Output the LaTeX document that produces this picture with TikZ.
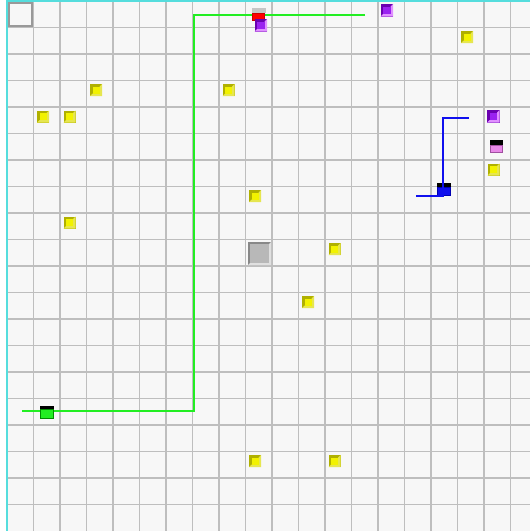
\documentclass[tikz,border=0pt]{standalone}
\usetikzlibrary{calc}
\definecolor{cellbg}{HTML}{F7F7F7}
\definecolor{gridln}{HTML}{BEBEBE}
\definecolor{edgecy}{HTML}{55DDDD}
\definecolor{ydark}{HTML}{B0B000}
\definecolor{ylight}{HTML}{E6E650}
\definecolor{yfill}{HTML}{F2F200}
\definecolor{pdark}{HTML}{6A00B0}
\definecolor{plight}{HTML}{E090FF}
\definecolor{pfill}{HTML}{9A22F0}
\definecolor{gdark}{HTML}{888888}
\definecolor{glight}{HTML}{E0E0E0}
\definecolor{gfill}{HTML}{B8B8B8}
\definecolor{pathgreen}{HTML}{22EE22}
\definecolor{pathblue}{HTML}{1010EE}
\definecolor{pinkfill}{HTML}{E888E8}
\definecolor{pinkedge}{HTML}{A050A0}
% bevelled square: x, y, size, dark, light, fill, band
\newcommand{\bsq}[7]{%
  \fill[#4] (#1,#2) rectangle ++(#3,#3);
  \fill[#5] ($(#1,#2)+(#3,0)$) -- ++(0,#3) -- ++(-#3,0) -- ++(#7,-#7) -- ++(#3-2*#7,0) -- ++(0,-#3+2*#7) -- cycle;
  \fill[#6] ($(#1,#2)+(#7,#7)$) rectangle ++(#3-2*#7,#3-2*#7);
}
\newcommand{\ysq}[2]{\bsq{7+26.5*#1+3.5}{1+26.5*#2+3.5}{12}{ydark}{ylight}{yfill}{2.5}}
\newcommand{\psq}[2]{\bsq{#1}{#2}{12.5}{pdark}{plight}{pfill}{2.5}}
\begin{document}
\begin{tikzpicture}[x=1pt,y=-1pt,
  gridline/.style={draw=gridln,line width=1.8pt},
  greenpath/.style={draw=pathgreen,line width=2pt},
  bluepath/.style={draw=pathblue,line width=2pt}]
\useasboundingbox (0,0) rectangle (530,531);
\clip (0,0) rectangle (530,531);
\fill[white] (0,0) rectangle (530,531);
\fill[cellbg] (7,1) rectangle (530,531);
\foreach \k in {1,...,19} {
  \draw[gridline] (7+26.5*\k,1) -- (7+26.5*\k,531);
  \draw[gridline] (7,1+26.5*\k) -- (530,1+26.5*\k);
}
\draw[edgecy,line width=1.4pt] (7,531) -- (7,1) -- (530,1);
% start cell
\draw[draw=gray!80,line width=1.6pt] (9,3) rectangle (32,26);
% yellow items
\foreach \c/\r in {3/3,1/4,2/4,8/3,17/1,9/7,2/8,12/9,11/11,18/6,9/17,12/17} {
  \ysq{\c}{\r}
}
% purple items
\psq{380.5}{4}
\psq{487}{110}
% big grey block
\bsq{248}{242}{23}{gdark}{glight}{gfill}{2}
% green route
\coordinate (g1) at (365,15);
\coordinate (g2) at (194,15);
\coordinate (g3) at (194,410.5);
\coordinate (g4) at (22,410.5);
\draw[greenpath] (g1) -- (g2) -- (g3) -- (g4);
% red agent at top
\fill[gray!45] (252,8) rectangle (265.5,12.7);
\fill[red!80!black] (252.3,12.7) rectangle (265.3,21);
\fill[red] (253.3,13.5) rectangle (264.3,20);
\psq{254.5}{19.2}
% green agent
\fill[black] (40,405.5) rectangle (53.5,409.2);
\fill[green!55!black] (40.3,409.2) rectangle (54,418.7);
\fill[pathgreen] (41.3,410) rectangle (53,417.7);
% blue route
\coordinate (b1) at (469,118.3);
\coordinate (b2) at (443,118.3);
\coordinate (b3) at (443,196);
\coordinate (b4) at (416,196);
\fill[black] (437,183.3) rectangle (450.7,186.8);
\fill[blue!70!black] (437,186.8) rectangle (450.7,196);
\fill[pathblue] (438,187.6) rectangle (449.5,195);
\draw[bluepath] (b1) -- (b2) -- (b3) -- (b4);
% pink item
\fill[black] (490,140) rectangle (503,145);
\fill[pinkedge] (490,145) rectangle (503,153.3);
\fill[pinkfill] (491,146) rectangle (502,152.3);
\end{tikzpicture}
\end{document}
